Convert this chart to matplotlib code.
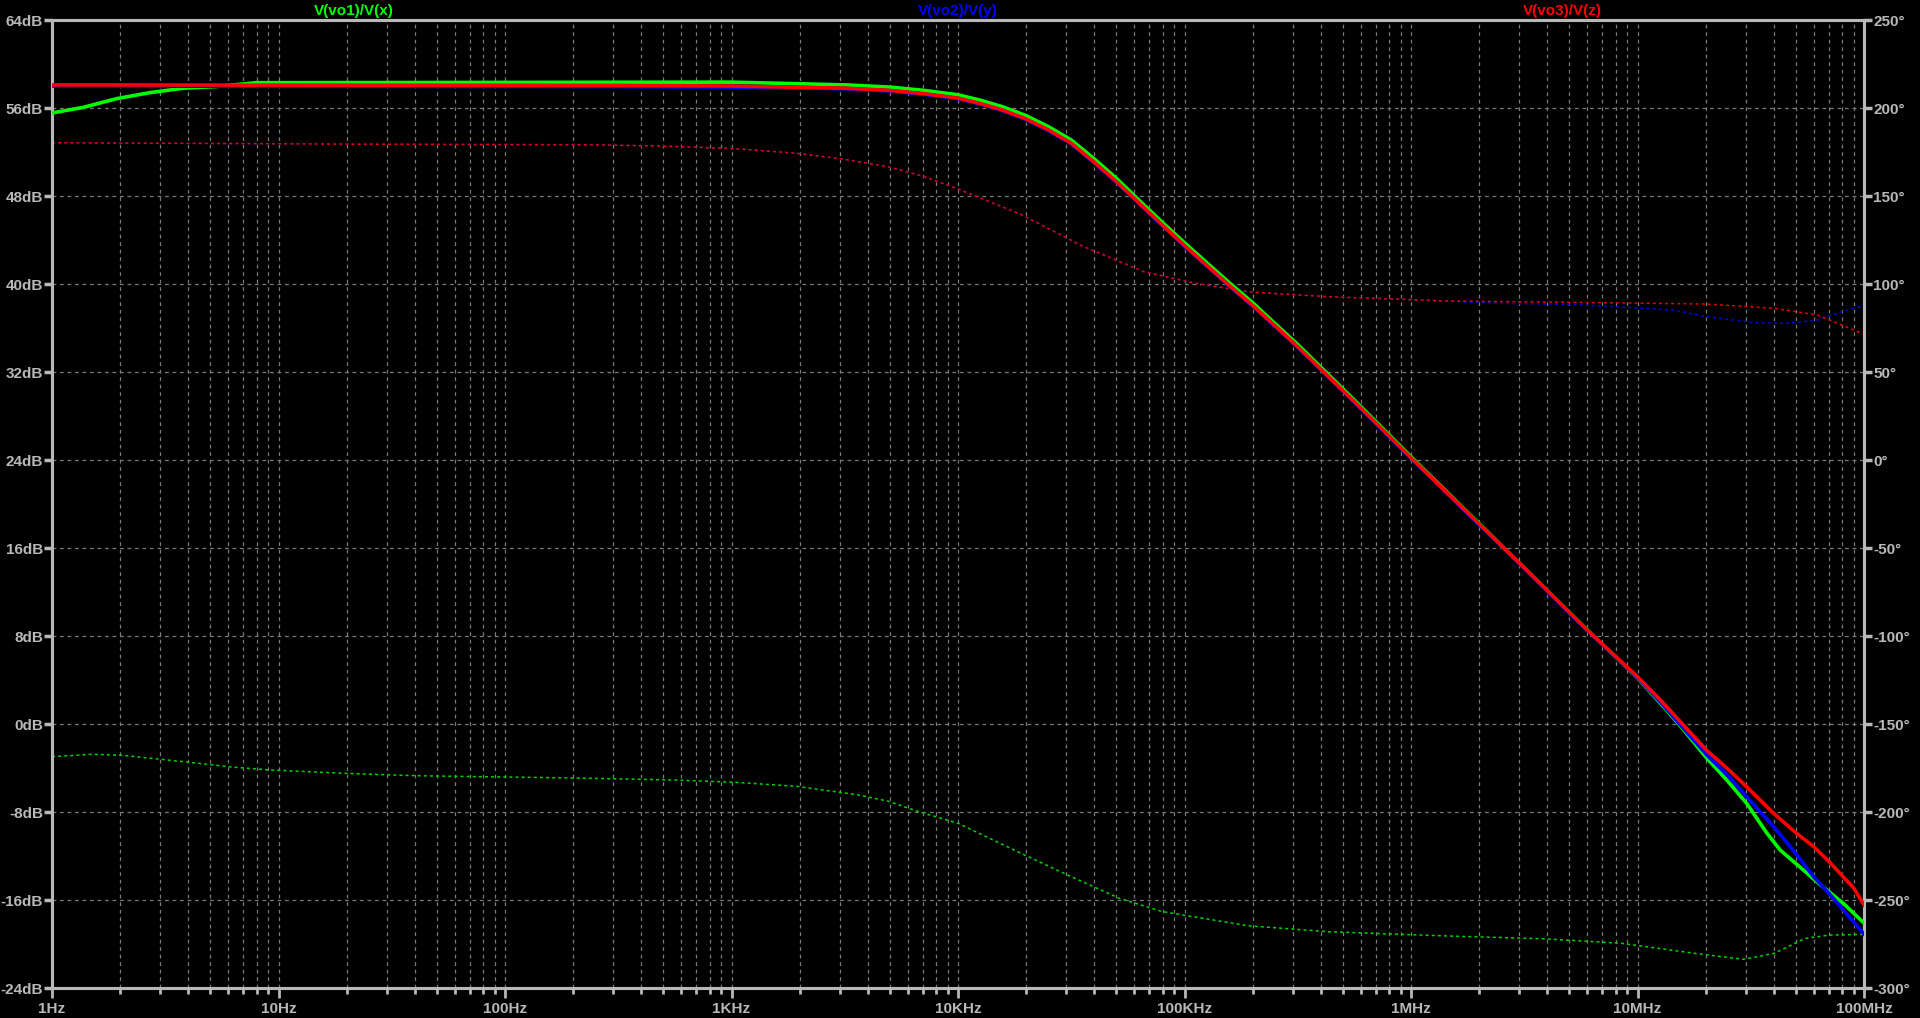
import numpy as np
import matplotlib
matplotlib.use("Agg")
import matplotlib.pyplot as plt
from matplotlib import font_manager
from matplotlib.ticker import FixedLocator, NullFormatter

# --- data -------------------------------------------------------------
# magnitude (dB) vs frequency (Hz)
f_red = [1, 300, 1e3, 3.2e3, 5e3, 7.1e3, 1e4, 1.26e4, 1.58e4, 2e4, 2.51e4, 3.16e4, 3.98e4,
         5.01e4, 6.31e4, 7.94e4, 1e5, 1.26e5, 1.58e5, 2e5, 2.51e5, 3.16e5, 5.62e5, 1e6,
         3.16e6, 6.1e6, 1e7, 1.26e7, 1.58e7, 2.02e7, 2.51e7, 3.03e7, 3.98e7, 5.01e7,
         6e7, 7.08e7, 8.1e7, 9e7, 1e8]
db_red = [58.1, 58.05, 58.0, 57.8, 57.6, 57.3, 56.9, 56.4, 55.8, 55.0, 54.0, 52.8, 51.1,
          49.3, 47.35, 45.4, 43.5, 41.65, 39.85, 38.05, 36.2, 34.3, 29.3, 24.2,
          14.2, 8.4, 4.3, 2.2, 0.0, -2.4, -4.1, -5.7, -8.1, -9.9,
          -11.15, -12.6, -13.9, -14.9, -16.45]

f_blue = [1, 300, 1e3, 3.2e3, 5e3, 7.1e3, 1e4, 1.26e4, 1.58e4, 2e4, 2.51e4, 3.16e4, 3.98e4,
          5.01e4, 6.31e4, 7.94e4, 1e5, 1.26e5, 1.58e5, 2e5, 2.51e5, 3.16e5, 5.62e5, 1e6,
          3.16e6, 6.1e6, 1e7, 1.26e7, 1.58e7, 2.02e7, 2.51e7, 3.03e7, 3.98e7, 5.01e7,
          6e7, 7.08e7, 8.1e7, 1e8]
db_blue = [58.0, 57.95, 57.9, 57.75, 57.55, 57.25, 56.85, 56.35, 55.75, 54.95, 53.95, 52.75,
           51.05, 49.25, 47.3, 45.35, 43.45, 41.6, 39.8, 38.0, 36.15, 34.25, 29.25, 24.15,
           14.15, 8.35, 4.25, 2.0, -0.3, -2.8, -4.7, -6.6, -9.3, -11.8,
           -13.9, -15.5, -16.9, -19.1]

f_green = [1, 1.37, 1.93, 2.71, 3.8, 5.3, 8, 1e3, 3.2e3, 5e3, 7.1e3, 1e4, 1.26e4, 1.58e4,
           2e4, 2.51e4, 3.16e4, 3.98e4, 5.01e4, 6.31e4, 7.94e4, 1e5, 1.26e5, 1.58e5, 2e5,
           2.51e5, 3.16e5, 5.62e5, 1e6, 3.16e6, 6.1e6, 1e7, 1.26e7, 1.58e7,
           2.02e7, 2.48e7, 3.03e7, 3.72e7, 4.26e7, 5.21e7, 6.4e7, 8.1e7, 1e8]
db_green = [55.55, 56.05, 56.85, 57.4, 57.8, 57.95, 58.3, 58.35, 58.1, 57.9, 57.6, 57.2,
            56.7, 56.1, 55.3, 54.3, 53.1, 51.4, 49.6, 47.6, 45.65, 43.75, 41.9, 40.1, 38.3,
            36.4, 34.5, 29.45, 24.3, 14.2, 8.4, 4.2, 1.9, -0.4,
            -3.1, -5.1, -7.2, -9.9, -11.45, -13.0, -14.6, -16.3, -18.1]

# phase (deg) vs frequency (Hz)
fp_red = [1, 18, 232, 490, 1035, 1930, 3170, 4900, 7110, 1e4, 1.9e4, 3.55e4, 6.6e4,
          1.09e5, 1.9e5, 4.28e5, 1.49e6, 5.16e6, 2.03e7, 4.02e7, 6.22e7, 7.98e7, 1e8]
ph_red = [180.3, 179.5, 179.1, 178.4, 176.9, 174.3, 170.8, 166.7, 161.0, 154.0, 139.5,
          121.5, 107.0, 100.7, 95.6, 92.8, 90.3, 89.6, 88.6, 86.2, 82.4, 76.7, 71.4]

fp_blue = [1, 18, 232, 490, 1035, 1930, 3170, 4900, 7110, 1e4, 1.9e4, 3.55e4, 6.6e4,
           1.09e5, 1.9e5, 4.28e5, 1.49e6, 2.47e6, 5.16e6, 1.44e7, 2.03e7, 3.33e7,
           4.56e7, 6.22e7, 7.98e7, 1e8]
ph_blue = [180.3, 179.5, 179.1, 178.4, 176.9, 174.3, 170.8, 166.7, 161.0, 154.0, 139.5,
           121.5, 107.0, 100.7, 95.6, 92.8, 90.2, 89.0, 88.4, 85.2, 81.4, 78.0,
           77.6, 79.5, 84.3, 87.7]

fp_green = [1, 1.5, 2.05, 4.06, 6.3, 9.1, 19.2, 40.6, 97, 204, 555, 1035, 1930, 3590,
            4900, 6700, 1e4, 1.9e4, 3.13e4, 5.15e4, 7.94e4, 1.9e5, 4.28e5, 1.49e6,
            3.78e6, 8.49e6, 1.79e7, 2.94e7, 4.02e7, 5.5e7, 7.05e7, 1e8]
ph_green = [-168.6, -167.2, -167.8, -171.8, -174.5, -176.1, -178.0, -179.4, -180.1,
            -180.7, -181.8, -183.1, -185.4, -190.2, -193.8, -199.8, -206.4, -223.5,
            -236.5, -249.0, -256.5, -264.6, -268.0, -270.5, -272.0, -274.6, -280.3,
            -283.7, -280.3, -271.8, -269.9, -269.5]

x_major = [1, 10, 100, 1e3, 1e4, 1e5, 1e6, 1e7, 1e8]
x_labels = ["1Hz", "10Hz", "100Hz", "1KHz", "10KHz", "100KHz", "1MHz", "10MHz", "100MHz"]
db_ticks = [64, 56, 48, 40, 32, 24, 16, 8, 0, -8, -16, -24]
ph_ticks = [250, 200, 150, 100, 50, 0, -50, -100, -150, -200, -250, -300]

traces = ["V(vo1)/V(x)", "V(vo2)/V(y)", "V(vo3)/V(z)"]

# --- figure -----------------------------------------------------------
FG = "#b8b8b8"
GRID = "#7a7a7a"
names = {f.name for f in font_manager.fontManager.ttflist}
fam = "Liberation Sans Narrow" if "Liberation Sans Narrow" in names else "Liberation Sans"
plt.rcParams["font.family"] = [fam, "DejaVu Sans"]
plt.rcParams["font.weight"] = "bold"
lsize = 13 if fam.endswith("Narrow") else 11

fig = plt.figure(figsize=(19.2, 10.18), dpi=100, facecolor="black")
ax = fig.add_axes([52 / 1920, 1 - 988 / 1018, 1812 / 1920, 968 / 1018])
ax.set_facecolor("black")
ax2 = ax.twinx()

ax.set_xscale("log")
ax.set_xlim(1, 1e8)
ax.set_ylim(-24, 64)
ax2.set_ylim(-300, 250)

minors = [m * 10 ** k for k in range(8) for m in range(2, 10)]
ax.xaxis.set_major_locator(FixedLocator(x_major))
ax.xaxis.set_minor_locator(FixedLocator(minors))
ax.xaxis.set_minor_formatter(NullFormatter())
ax.set_xticklabels(x_labels)
ax.set_yticks(db_ticks)
ax.set_yticklabels([f"{v}dB" for v in db_ticks])
ax2.set_yticks(ph_ticks)
ax2.set_yticklabels([f"{v}°" for v in ph_ticks])

ax.grid(True, which="both", axis="x", color=GRID, linestyle=(0, (3, 3)), linewidth=0.9)
ax.grid(True, which="major", axis="y", color=GRID, linestyle=(0, (3, 3)), linewidth=0.9)

for a in (ax, ax2):
    for s in a.spines.values():
        s.set_color(FG)
        s.set_linewidth(2.2)
ax.tick_params(axis="x", which="major", colors=FG, length=7, width=2, labelsize=lsize, pad=3)
ax.tick_params(axis="x", which="minor", colors=FG, length=4, width=2)
ax.tick_params(axis="y", colors=FG, length=6, width=2.5, labelsize=lsize, pad=0.5)
ax2.tick_params(axis="y", colors=FG, length=6, width=2.5, labelsize=lsize, pad=0.5)

# phase traces (dashed), right axis
ax2.plot(fp_green, ph_green, color="#00d000", linestyle=(0, (2, 2)), linewidth=1.1)
ax2.plot(fp_blue, ph_blue, color="#0000e0", linestyle=(0, (2, 2)), linewidth=1.1)
ax2.plot(fp_red, ph_red, color="#e00000", linestyle=(0, (2, 2)), linewidth=1.1)

# magnitude traces, drawn over the phase
ax3 = ax.twinx()
ax3.set_ylim(-24, 64)
ax3.set_yticks([])
for s in ax3.spines.values():
    s.set_visible(False)
ax3.plot(f_green, db_green, color="#00ff00", linewidth=2.6)
ax3.plot(f_blue, db_blue, color="#0000ff", linewidth=2.6)
ax3.plot(f_red, db_red, color="#ff0000", linewidth=2.6)

# trace names along the top
for xpos, name, c in zip([1 / 6, 1 / 2, 5 / 6], traces, ["#00ff00", "#0000ff", "#ff0000"]):
    ax.text(xpos, 1.002, name, transform=ax.transAxes, color=c, fontsize=lsize,
            ha="center", va="bottom")

fig.savefig("out.png", dpi=100, facecolor="black")
